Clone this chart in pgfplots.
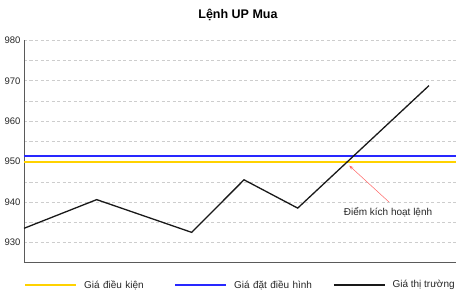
\documentclass[border=0pt]{standalone}
\usepackage{fontspec}
\setmainfont{Liberation Sans}
\usepackage{pgfplots}
\pgfplotsset{compat=1.18}
\usetikzlibrary{arrows.meta}
\definecolor{cyel}{RGB}{255,210,0}
\definecolor{cblu}{RGB}{40,40,255}
\definecolor{cgrid}{RGB}{205,205,205}
\definecolor{caxis}{RGB}{90,90,90}
\begin{document}
\begin{tikzpicture}
\path[use as bounding box] (-24pt,-35.3pt) rectangle (446pt,262.7pt);
\begin{axis}[
  at={(0,0)}, anchor=south west,
  scale only axis, width=432pt, height=222.4pt,
  xmin=0, xmax=432, ymin=925, ymax=980,
  axis x line*=bottom, axis y line*=left,
  axis line style={caxis, line width=0.8pt, -},
  xtick=\empty,
  ytick={930,940,...,980},
  minor ytick={935,945,...,975},
  major tick length=0pt, minor tick length=0pt,
  ymajorgrids, yminorgrids,
  major grid style={cgrid, dash pattern=on 3pt off 2.5pt, line width=0.6pt},
  minor grid style={cgrid, dash pattern=on 3pt off 2.5pt, line width=0.6pt},
  /pgf/number format/assume math mode=true,
  tick label style={font=\fontsize{9.5}{11}\selectfont, text=black!85},
  title={\textbf{Lệnh UP Mua}},
  title style={font=\fontsize{12.5}{14}\selectfont, anchor=base, at={(0.5,1)}, yshift=15.6pt, xshift=-2pt},
  legend columns=3,
  legend style={draw=none, fill=none, inner sep=0pt, at={(0,0)}, anchor=west, yshift=-22.3pt,
    font=\fontsize{10}{12}\selectfont,
    nodes={inner sep=0pt, text=black!85},
    /tikz/every odd column/.style={column sep=7pt},
    /tikz/every even column/.style={column sep=0pt}},
  legend image code/.code={\draw[#1] (0pt,0pt) -- (51pt,0pt);},
  clip=false,
]
\addplot[cyel, line width=2pt] coordinates {(0,950) (432,950)};
\addlegendentry[text width=90pt, align=left]{Giá điều kiện}
\addplot[cblu, line width=2pt] coordinates {(0,951.5) (432,951.5)};
\addlegendentry[text width=99pt, align=left]{Giá đặt điều hình}
\addplot[black!90, line width=1.3pt] coordinates {
  (0,933.5) (72.7,940.6) (167.7,932.5) (220,945.5) (273.7,938.5) (405,968.8)};
\addlegendentry{Giá thị trường}
\draw[red!60, line width=0.5pt, -{Stealth[length=4pt,width=3pt]}] (axis cs:365,940.0) -- (axis cs:325.3,949.0);
\node[font=\fontsize{10}{12}\selectfont, text=black!85] at (axis cs:364,937.5) {Điểm kích hoạt lệnh};
\end{axis}
\end{tikzpicture}
\end{document}
